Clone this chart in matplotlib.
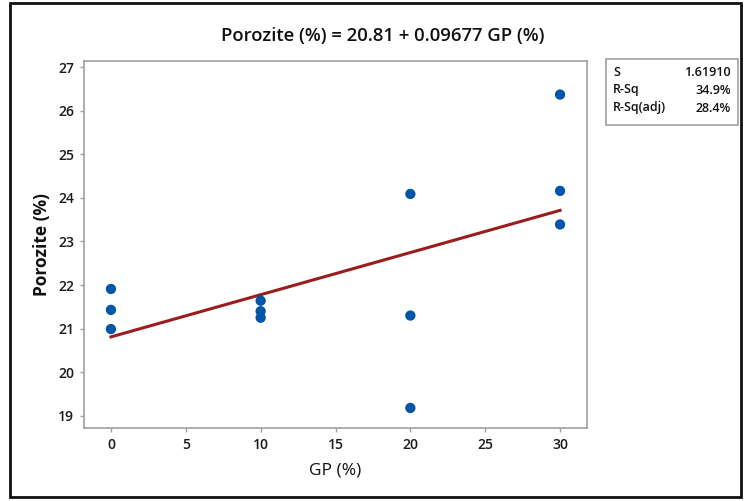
import matplotlib.pyplot as plt
from matplotlib.patches import Rectangle
import numpy as np

plt.rcParams['font.family'] = ['Open Sans', 'DejaVu Sans']

# GP (%) levels and measured porosity
gp = [0, 0, 0, 10, 10, 10, 20, 20, 20, 30, 30, 30]
porozite = [21.91, 21.43, 20.99, 21.64, 21.40, 21.25,
            24.09, 21.30, 19.18, 26.37, 24.16, 23.39]

# fitted model and summary
b0, b1 = 20.81, 0.09677
stats_names = ['S', 'R-Sq', 'R-Sq(adj)']
stats_vals = ['1.61910', '34.9%', '28.4%']

xticks = [0, 5, 10, 15, 20, 25, 30]
yticks = [19, 20, 21, 22, 23, 24, 25, 26, 27]

W, H = 746, 501
fig = plt.figure(figsize=(W / 100, H / 100), dpi=100)
ax = fig.add_axes([84 / W, 1 - 428 / H, (587 - 84) / W, (428 - 61) / H])

xf = np.array([0, 30])
ax.plot(xf, b0 + b1 * xf, color='#9b1c1c', lw=2.2, zorder=2)
ax.scatter(gp, porozite, s=55, color='#0156a8', edgecolors='none', zorder=3)

ax.set_xlim(-1.8, 31.8)
ax.set_ylim(18.72, 27.14)
ax.set_xticks(xticks)
ax.set_yticks(yticks)
for s in ax.spines.values():
    s.set_color('#a0a0a0')
    s.set_linewidth(1.2)
ax.tick_params(length=3, width=1, color='#a0a0a0', labelsize=10, labelcolor='#1a1a1a', pad=4)
for lab in ax.get_xticklabels() + ax.get_yticklabels():
    lab.set_fontweight('semibold')

ax.set_xlabel('GP (%)', fontsize=12.5, color='#111111', labelpad=8)
ax.set_ylabel('Porozite (%)', fontsize=12.5, fontweight='bold', color='#111111', labelpad=5)

fig.text(383 / W, 1 - 36 / H, 'Porozite (%) = 20.81 + 0.09677 GP (%)',
         ha='center', va='center', fontsize=13.3, fontweight='semibold', color='#111111')

# summary box
fig.add_artist(Rectangle((606 / W, 1 - 125 / H), 132 / W, 66 / H, transform=fig.transFigure,
                         fill=False, edgecolor='#a0a0a0', lw=1.2))
for i, (n, v) in enumerate(zip(stats_names, stats_vals)):
    yy = 1 - (72 + 18 * i) / H
    fig.text(613 / W, yy, n, ha='left', va='center', fontsize=9, fontweight='semibold', color='#111111')
    fig.text(731 / W, yy, v, ha='right', va='center', fontsize=9, fontweight='semibold', color='#111111')

# outer frame
fig.add_artist(Rectangle((10 / W, 4 / H), 731 / W, 494 / H, transform=fig.transFigure,
                         fill=False, edgecolor='#111111', lw=2))

fig.savefig('out.png', dpi=100)
